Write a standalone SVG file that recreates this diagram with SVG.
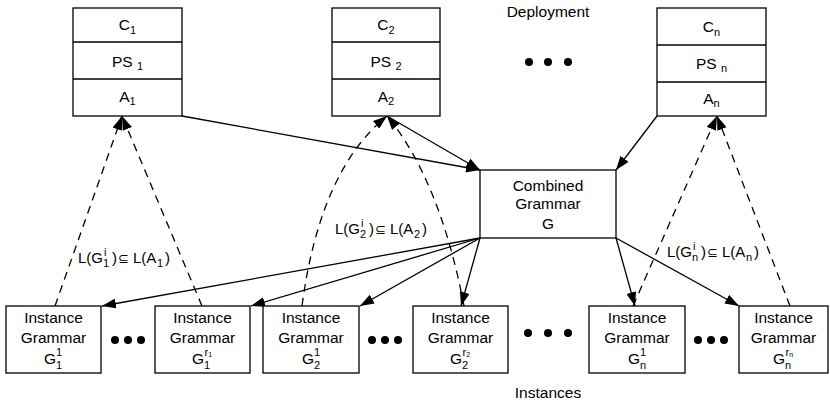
<svg xmlns="http://www.w3.org/2000/svg" width="830" height="403" viewBox="0 0 830 403">
  <style>
    .box { fill: #fff; stroke: #000; stroke-width: 1.3; }
    .div { stroke: #000; stroke-width: 1.3; }
    text { font-family: "Liberation Sans", Arial, sans-serif; font-size: 15.5px; fill: #000; }
    .c { text-anchor: middle; }
    .s { font-size: 11px; }
    .ss { font-size: 7px; }
    .lbl { font-size: 15px; }
    .sym { font-family: "DejaVu Sans", sans-serif; font-size: 13px; }
    .solid { fill: none; stroke: #000; stroke-width: 1.3; marker-end: url(#arrow); }
    .dash { fill: none; stroke: #000; stroke-width: 1.3; stroke-dasharray: 8 6; marker-end: url(#arrow); }
  </style>
  <defs>
    <marker id="arrow" viewBox="0 0 14 10" refX="14" refY="5" markerWidth="14" markerHeight="10" markerUnits="userSpaceOnUse" orient="auto">
      <path d="M0,0 L14,5 L0,10 z" fill="#000"/>
    </marker>
  </defs>

  <rect width="830" height="403" fill="#fff"/>

  <!-- section titles -->
  <text class="c" x="548" y="17">Deployment</text>
  <text class="c" x="548" y="398">Instances</text>

  <!-- ellipses between deployment stacks -->
  <g id="dots-top">
    <circle cx="529" cy="62" r="4"/>
    <circle cx="548" cy="62" r="4"/>
    <circle cx="568" cy="62" r="4"/>
  </g>

  <!-- connectors -->
  <g id="connectors">
    <!-- deployments into the combined grammar -->
    <path class="solid" d="M182,116 L480,170"/>
    <path class="solid" d="M387,116 L480,170"/>
    <path class="solid" d="M657,116 L616,170"/>
    <!-- combined grammar out to instances -->
    <path class="solid" d="M480,238 L102,306"/>
    <path class="solid" d="M480,238 L251,306"/>
    <path class="solid" d="M480,238 L360,306"/>
    <path class="solid" d="M480,238 L461,306"/>
    <path class="solid" d="M616,238 L635,306"/>
    <path class="solid" d="M616,238 L739,306"/>
    <!-- language inclusion checks -->
    <path class="dash" d="M55,306 L122,116"/>
    <path class="dash" d="M202,306 L122,116"/>
    <path class="dash" d="M302,306 Q320,170 387,116"/>
    <path class="dash" d="M464,306 Q440,180 387,116"/>
    <path class="dash" d="M633,306 L717,116"/>
    <path class="dash" d="M790,306 L717,116"/>
  </g>

  <!-- deployment stacks -->
  <g id="dep1">
    <rect class="box" x="73" y="8" width="109" height="108"/>
    <line class="div" x1="73" y1="42" x2="182" y2="42"/>
    <line class="div" x1="73" y1="79" x2="182" y2="79"/>
    <text class="c" x="127.5" y="30">C<tspan class="s" dy="4">1</tspan></text>
    <text class="c" x="127.5" y="67">PS <tspan class="s" dy="3">1</tspan></text>
    <text class="c" x="127.5" y="102">A<tspan class="s" dy="3">1</tspan></text>
  </g>
  <g id="dep2">
    <rect class="box" x="332" y="8" width="108" height="108"/>
    <line class="div" x1="332" y1="42" x2="440" y2="42"/>
    <line class="div" x1="332" y1="79" x2="440" y2="79"/>
    <text class="c" x="386" y="30">C<tspan class="s" dy="4">2</tspan></text>
    <text class="c" x="386" y="67">PS <tspan class="s" dy="3">2</tspan></text>
    <text class="c" x="386" y="102">A<tspan class="s" dy="3">2</tspan></text>
  </g>
  <g id="depn">
    <rect class="box" x="657" y="8" width="109" height="108"/>
    <line class="div" x1="657" y1="45" x2="766" y2="45"/>
    <line class="div" x1="657" y1="82" x2="766" y2="82"/>
    <text class="c" x="711.5" y="32">C<tspan class="s" dy="4">n</tspan></text>
    <text class="c" x="711.5" y="69">PS <tspan class="s" dy="3">n</tspan></text>
    <text class="c" x="711.5" y="104">A<tspan class="s" dy="3">n</tspan></text>
  </g>

  <!-- combined grammar -->
  <g id="combined">
    <rect class="box" x="480" y="170" width="136" height="68"/>
    <text class="c" x="548" y="191">Combined</text>
    <text class="c" x="548" y="209">Grammar</text>
    <text class="c" x="548" y="229">G</text>
  </g>

  <!-- inclusion labels -->
  <g id="label1">
    <text class="lbl" x="78" y="263">L(G</text>
    <text class="s" x="104" y="256">i</text>
    <text class="s" x="103" y="267">1</text>
    <text class="lbl" x="112" y="263">)</text>
    <text class="sym" x="118" y="263">⊆</text>
    <text class="lbl" x="133" y="263">L(A</text>
    <text class="s" x="157" y="267">1</text>
    <text class="lbl" x="165" y="263">)</text>
  </g>
  <g id="label2">
    <text class="lbl" x="335" y="234">L(G</text>
    <text class="s" x="361" y="227">i</text>
    <text class="s" x="360" y="238">2</text>
    <text class="lbl" x="369" y="234">)</text>
    <text class="sym" x="375" y="234">⊆</text>
    <text class="lbl" x="390" y="234">L(A</text>
    <text class="s" x="414" y="238">2</text>
    <text class="lbl" x="422" y="234">)</text>
  </g>
  <g id="labeln">
    <text class="lbl" x="667" y="257">L(G</text>
    <text class="s" x="693" y="250">i</text>
    <text class="s" x="692" y="261">n</text>
    <text class="lbl" x="701" y="257">)</text>
    <text class="sym" x="707" y="257">⊆</text>
    <text class="lbl" x="722" y="257">L(A</text>
    <text class="s" x="746" y="261">n</text>
    <text class="lbl" x="754" y="257">)</text>
  </g>

  <!-- instance grammars -->
  <g id="inst1-1">
    <rect class="box" x="6" y="306" width="95" height="67"/>
    <text class="c" x="53.5" y="323">Instance</text>
    <text class="c" x="53.5" y="343">Grammar</text>
    <text x="44" y="364">G</text>
    <text class="s" x="56" y="356">1</text>
    <text class="s" x="56" y="369">1</text>
  </g>
  <g id="inst1-r">
    <rect class="box" x="155" y="306" width="95" height="67"/>
    <text class="c" x="202.5" y="323">Instance</text>
    <text class="c" x="202.5" y="343">Grammar</text>
    <text x="192" y="364">G</text>
    <text class="s" x="204.5" y="356">r<tspan class="ss" dy="1">1</tspan></text>
    <text class="s" x="204" y="369">1</text>
  </g>
  <g id="inst2-1">
    <rect class="box" x="263" y="306" width="96" height="67"/>
    <text class="c" x="311" y="323">Instance</text>
    <text class="c" x="311" y="343">Grammar</text>
    <text x="302" y="364">G</text>
    <text class="s" x="314" y="356">1</text>
    <text class="s" x="314" y="369">2</text>
  </g>
  <g id="inst2-r">
    <rect class="box" x="413" y="306" width="95" height="67"/>
    <text class="c" x="460.5" y="323">Instance</text>
    <text class="c" x="460.5" y="343">Grammar</text>
    <text x="450" y="364">G</text>
    <text class="s" x="462.5" y="356">r<tspan class="ss" dy="1">2</tspan></text>
    <text class="s" x="462" y="369">2</text>
  </g>
  <g id="instn-1">
    <rect class="box" x="589" y="306" width="96" height="67"/>
    <text class="c" x="637" y="323">Instance</text>
    <text class="c" x="637" y="343">Grammar</text>
    <text x="628" y="364">G</text>
    <text class="s" x="640" y="356">1</text>
    <text class="s" x="640" y="369">n</text>
  </g>
  <g id="instn-r">
    <rect class="box" x="739" y="306" width="89" height="67"/>
    <text class="c" x="783.5" y="323">Instance</text>
    <text class="c" x="783.5" y="343">Grammar</text>
    <text x="773" y="364">G</text>
    <text class="s" x="785.5" y="356">r<tspan class="ss" dy="1">n</tspan></text>
    <text class="s" x="785" y="369">n</text>
  </g>

  <!-- ellipses between instance grammars -->
  <g id="dots-bottom">
    <circle cx="115" cy="340" r="4"/>
    <circle cx="128" cy="340" r="4"/>
    <circle cx="141" cy="340" r="4"/>
    <circle cx="372" cy="340" r="4"/>
    <circle cx="385" cy="340" r="4"/>
    <circle cx="398" cy="340" r="4"/>
    <circle cx="528" cy="333" r="4"/>
    <circle cx="548" cy="333" r="4"/>
    <circle cx="568" cy="333" r="4"/>
    <circle cx="698" cy="340" r="4"/>
    <circle cx="711" cy="340" r="4"/>
    <circle cx="724" cy="340" r="4"/>
  </g>
</svg>
